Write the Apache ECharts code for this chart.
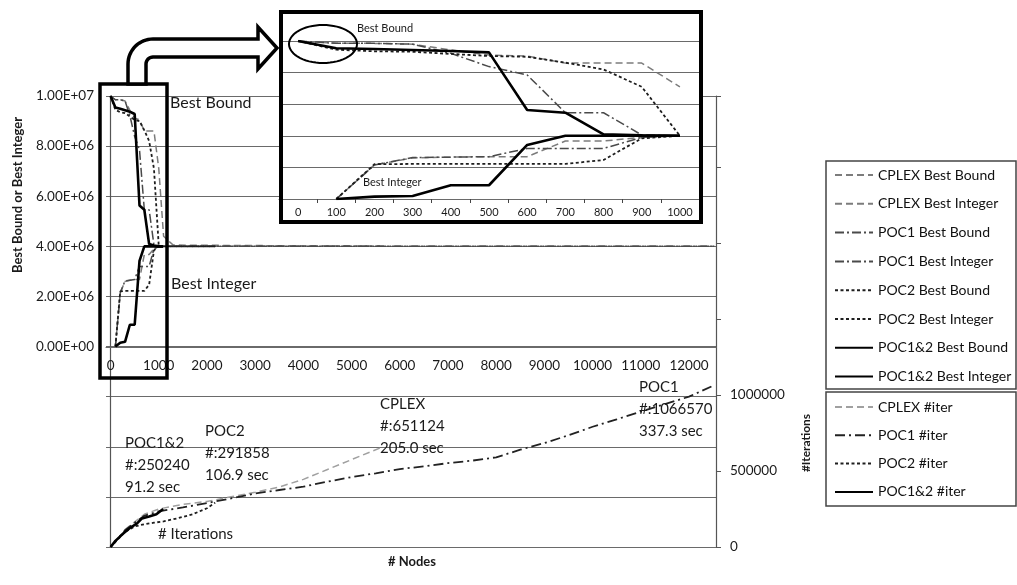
<!DOCTYPE html>
<html>
<head>
<meta charset="utf-8">
<title>Best bound / best integer vs nodes</title>
<script src="https://cdn.jsdelivr.net/npm/echarts@6/dist/echarts.min.js"></script>
<style>
  html, body { margin: 0; padding: 0; background: #fff; }
  #main { width: 1017px; height: 585px; }
</style>
</head>
<body>
<div id="main"></div>
<script type="text/javascript">

// ---- data ----
var mainXTicks = [0, 1000, 2000, 3000, 4000, 5000, 6000, 7000, 8000, 9000, 10000, 11000, 12000];
var insetNodes = [0, 100, 200, 300, 400, 500, 600, 700, 800, 900, 1000];

// best bound / best integer, one value per inset node (null = none yet)
var cplexBound  = [1e7, 9.85e6, 9.85e6, 9.8e6, 9.43e6, 9.11e6, 9.05e6, 8.6e6, 8.6e6, 8.6e6, 7.1e6];
var cplexInt    = [null, 0, 2.15e6, 2.6e6, 2.65e6, 2.68e6, 2.68e6, 3.67e6, 3.67e6, 3.9e6, 4.0e6];
var poc1Bound   = [1e7, 9.85e6, 9.85e6, 9.8e6, 9.22e6, 8.38e6, 7.85e6, 5.46e6, 5.46e6, 4.05e6, 4.0e6];
var poc1Int     = [null, 0, 2.15e6, 2.62e6, 2.65e6, 2.68e6, 3.2e6, 3.2e6, 3.2e6, 3.9e6, 4.0e6];
var poc2Bound   = [1e7, 9.45e6, 9.35e6, 9.32e6, 9.18e6, 9.05e6, 9.0e6, 8.63e6, 8.2e6, 7.1e6, 4.0e6];
var poc2Int     = [null, 0, 2.2e6, 2.22e6, 2.22e6, 2.22e6, 2.22e6, 2.22e6, 2.47e6, 3.84e6, 4.0e6];
var poc12Bound  = [1e7, 9.54e6, 9.49e6, 9.43e6, 9.37e6, 9.28e6, 5.63e6, 5.46e6, 4.09e6, 4.03e6, 4.0e6];
var poc12Int    = [null, 0, 0.15e6, 0.19e6, 0.87e6, 0.87e6, 3.42e6, 4.0e6, 4.0e6, 4.0e6, 4.0e6];

// what happens after node 1000 (until each run stops)
var cplexBoundTail = [[1100, 4.4e6], [1300, 4.05e6], [5590, 4.0e6]];
var cplexIntTail   = [[5590, 4.0e6]];
var poc1BoundTail  = [[12540, 4.0e6]];
var poc1IntTail    = [[12540, 4.0e6]];
var poc2BoundTail  = [[2170, 4.0e6]];
var poc2IntTail    = [[2170, 4.0e6]];
var poc12BoundTail = [[1090, 4.0e6]];
var poc12IntTail   = [[1090, 4.0e6]];

// iterations vs nodes
var cplexIterNodes = [0, 150, 300, 500, 700, 1000, 1500, 2000, 2500, 3000, 3500, 4000, 4500, 5000, 5590];
var cplexIter      = [0, 55000, 115000, 165000, 215000, 250000, 280000, 300000, 330000, 360000, 395000, 445000, 510000, 575000, 651124];
var poc1IterNodes  = [0, 150, 300, 500, 700, 1000, 1500, 2000, 2500, 3000, 3500, 4000, 4500, 5000, 5500, 6000, 6500, 7000, 7500, 8000, 8500, 9000, 9500, 10000, 10500, 11000, 11500, 12000, 12540];
var poc1Iter       = [0, 55000, 110000, 160000, 205000, 235000, 260000, 289000, 320000, 352000, 375000, 397000, 430000, 460000, 485000, 513000, 530000, 552000, 568000, 590000, 640000, 684000, 735000, 791000, 840000, 890000, 940000, 989000, 1066570];
var poc2IterNodes  = [0, 150, 300, 500, 700, 900, 1100, 1400, 1700, 2000, 2170];
var poc2Iter       = [0, 50000, 100000, 135000, 150000, 160000, 168000, 190000, 215000, 255000, 291858];
var poc12IterNodes = [0, 100, 250, 400, 550, 650, 800, 950, 1090];
var poc12Iter      = [0, 40000, 85000, 125000, 155000, 188000, 200000, 215000, 250240];

var notes = [
    {x: 125, y: 443, lines: ['POC1&2', '#:250240', '91.2 sec']},
    {x: 205, y: 431, lines: ['POC2', '#:291858', '106.9 sec']},
    {x: 380, y: 404, lines: ['CPLEX', '#:651124', '205.0 sec']},
    {x: 639, y: 387, lines: ['POC1', '#:1066570', '337.3 sec']}
];

// ---- helpers ----
var FONT = 'Lato, "Open Sans", sans-serif';

var pairs = function (xs, ys, tail) {
    var out = [];
    for (var i = 0; i < xs.length; i++) {
        if (ys[i] !== null) out.push([xs[i], ys[i]]);
    }
    return out.concat(tail || []);
};

var sty = {
    cplex: {color: '#7c7c7c', width: 1.5, type: [7, 4]},
    poc1:  {color: '#4a4a4a', width: 1.5, type: [9, 3, 2, 3]},
    poc2:  {color: '#1e1e1e', width: 1.8, type: [3, 2.5]},
    poc12: {color: '#000000', width: 2.6, type: 'solid'},
    cplexIt: {color: '#a0a0a0', width: 1.5, type: [7, 4]},
    poc1It:  {color: '#222222', width: 1.8, type: [10, 4, 2, 4]}
};

var line = function (name, data, ls, xi, yi, z) {
    return {
        name: name, type: 'line', data: data,
        xAxisIndex: xi, yAxisIndex: yi,
        symbol: 'none', showSymbol: false, z: z,
        lineStyle: {color: ls.color, width: ls.width, type: ls.type},
        itemStyle: {color: ls.color},
        animation: false
    };
};

var series = [
    // main chart
    line('CPLEX Best Bound',    pairs(insetNodes, cplexBound, cplexBoundTail), sty.cplex, 0, 0, 2),
    line('CPLEX Best Integer',  pairs(insetNodes, cplexInt, cplexIntTail),     sty.cplex, 0, 0, 2),
    line('POC1 Best Bound',     pairs(insetNodes, poc1Bound, poc1BoundTail),   sty.poc1, 0, 0, 2),
    line('POC1 Best Integer',   pairs(insetNodes, poc1Int, poc1IntTail),       sty.poc1, 0, 0, 2),
    line('POC2 Best Bound',     pairs(insetNodes, poc2Bound, poc2BoundTail),   sty.poc2, 0, 0, 2),
    line('POC2 Best Integer',   pairs(insetNodes, poc2Int, poc2IntTail),       sty.poc2, 0, 0, 2),
    line('POC1&2 Best Bound',   pairs(insetNodes, poc12Bound, poc12BoundTail), sty.poc12, 0, 0, 3),
    line('POC1&2 Best Integer', pairs(insetNodes, poc12Int, poc12IntTail),     sty.poc12, 0, 0, 3),
    line('CPLEX #iter',  pairs(cplexIterNodes, cplexIter), sty.cplexIt, 0, 1, 2),
    line('POC1 #iter',   pairs(poc1IterNodes, poc1Iter),   sty.poc1It, 0, 1, 2),
    line('POC2 #iter',   pairs(poc2IterNodes, poc2Iter),   sty.poc2, 0, 1, 2),
    line('POC1&2 #iter', pairs(poc12IterNodes, poc12Iter), sty.poc12, 0, 1, 3),
    // inset (zoom of 0..1000 nodes)
    line('CPLEX Best Bound',    cplexBound, sty.cplex, 1, 2, 7),
    line('CPLEX Best Integer',  cplexInt,   sty.cplex, 1, 2, 7),
    line('POC1 Best Bound',     poc1Bound,  sty.poc1, 1, 2, 7),
    line('POC1 Best Integer',   poc1Int,    sty.poc1, 1, 2, 7),
    line('POC2 Best Bound',     poc2Bound,  sty.poc2, 1, 2, 7),
    line('POC2 Best Integer',   poc2Int,    sty.poc2, 1, 2, 7),
    line('POC1&2 Best Bound',   poc12Bound, sty.poc12, 1, 2, 8),
    line('POC1&2 Best Integer', poc12Int,   sty.poc12, 1, 2, 8)
];

// ---- shapes: bent arrow and ellipse as point lists ----
var arcPts = function (cx, cy, r, a0, a1, n) {
    var pts = [];
    for (var i = 0; i <= n; i++) {
        var a = a0 + (a1 - a0) * i / n;
        pts.push([cx + r * Math.cos(a), cy + r * Math.sin(a)]);
    }
    return pts;
};
var arrowPts = [[128, 84], [128, 64]]
    .concat(arcPts(153, 64, 25, Math.PI, Math.PI * 1.5, 16))
    .concat([[258, 39], [258, 27], [277, 48], [258, 69], [258, 57]])
    .concat(arcPts(153, 64, 7, Math.PI * 1.5, Math.PI, 8))
    .concat([[146, 84]]);
var ellipsePts = [];
for (var k = 0; k < 60; k++) {
    var t = k / 60 * Math.PI * 2;
    ellipsePts.push([323 + 34 * Math.cos(t), 44 + 19 * Math.sin(t)]);
}

var txt = function (x, y, s, size, weight, align, rot) {
    return {
        type: 'text', x: x, y: y, rotation: rot || 0, z: 12,
        style: {text: s, fill: '#1a1a1a', font: (weight || 'normal') + ' ' + size + 'px ' + FONT,
                align: align || 'left', verticalAlign: 'middle'}
    };
};

var graphics = [
    {type: 'rect', shape: {x: 281, y: 12, width: 420, height: 210}, style: {fill: '#fff'}, z: 5},
    {type: 'rect', shape: {x: 281, y: 12, width: 420, height: 210}, style: {fill: null, stroke: '#000', lineWidth: 4}, z: 12},
    {type: 'rect', shape: {x: 100, y: 84, width: 67, height: 294}, style: {fill: null, stroke: '#000', lineWidth: 3.5}, z: 12},
    {type: 'polygon', shape: {points: arrowPts}, style: {fill: '#fff', stroke: '#000', lineWidth: 3.5}, z: 12},
    {type: 'polygon', shape: {points: ellipsePts}, style: {fill: null, stroke: '#000', lineWidth: 2}, z: 12},
    {type: 'rect', shape: {x: 826, y: 161, width: 190, height: 228}, style: {fill: null, stroke: '#444', lineWidth: 1.5}, z: 12},
    {type: 'rect', shape: {x: 826, y: 392, width: 190, height: 114}, style: {fill: null, stroke: '#444', lineWidth: 1.5}, z: 12},
    txt(170, 103, 'Best Bound', 16),
    txt(171, 284, 'Best Integer', 16),
    txt(357, 28, 'Best Bound', 11),
    txt(363, 182, 'Best Integer', 11),
    txt(158, 534, '# Iterations', 15),
    txt(412, 562, '# Nodes', 13, 'bold', 'center'),
    txt(18, 195, 'Best Bound or Best Integer', 13, 'bold', 'center', Math.PI / 2),
    txt(806, 443, '#Iterations', 12, 'bold', 'center', Math.PI / 2)
];
notes.forEach(function (n) {
    n.lines.forEach(function (s, i) {
        graphics.push(txt(n.x, n.y + i * 22, s, 15));
    });
});

var gridColor = '#6a6a6a';
var axisFont = {fontFamily: FONT, fontSize: 13.5, color: '#1a1a1a'};
var legendCommon = {
    orient: 'vertical', left: 834, padding: 0,
    itemWidth: 38, itemHeight: 16, selectedMode: false,
    itemStyle: {color: 'rgba(0,0,0,0)', borderWidth: 0, opacity: 0},
    textStyle: {fontFamily: FONT, fontSize: 14, color: '#111'}
};

var option = {
    backgroundColor: '#fff',
    animation: false,
    grid: [
        {left: 106, right: 301, top: 96, bottom: 38},
        {left: 279, width: 420, top: 41, height: 158}
    ],
    legend: [
        Object.assign({
            data: series.slice(0, 8).map(function (s) { return s.name; }),
            top: 168, itemGap: 14.8
        }, legendCommon),
        Object.assign({
            data: series.slice(8, 12).map(function (s) { return s.name; }),
            top: 400, itemGap: 14.3
        }, legendCommon)
    ],
    xAxis: [
        {
            // labels sit just under the zero line of the left axis (200px above the grid bottom)
            type: 'value', gridIndex: 0, min: -95, max: 12560, offset: -200,
            axisLine: {show: true, onZero: false, lineStyle: {color: gridColor, width: 1.2}},
            axisTick: {show: false},
            splitLine: {show: false},
            axisLabel: Object.assign({
                customValues: mainXTicks, margin: 12,
                formatter: function (v) { return String(v); }
            }, axisFont)
        },
        {
            type: 'category', gridIndex: 1, data: insetNodes.map(String), boundaryGap: true, z: 6,
            axisLine: {show: true, lineStyle: {color: gridColor, width: 1.2}},
            axisTick: {show: true, length: 4, lineStyle: {color: '#444'}},
            splitLine: {show: false},
            axisLabel: {fontFamily: FONT, fontSize: 11, color: '#1a1a1a', margin: 8, interval: 0}
        }
    ],
    yAxis: [
        {
            type: 'value', gridIndex: 0, min: -8e6, max: 1e7, interval: 2e6,
            axisLine: {show: true, lineStyle: {color: '#555', width: 1.2}},
            axisTick: {show: false},
            splitLine: {show: true, lineStyle: {color: gridColor, width: 1.2}},
            axisLabel: Object.assign({
                margin: 12,
                formatter: function (v) {
                    if (v < 0) return '';
                    var p = v.toExponential(2).split('e');
                    var e = parseInt(p[1], 10);
                    return p[0] + 'E+' + (e < 10 ? '0' + e : e);
                }
            }, axisFont)
        },
        {
            type: 'value', gridIndex: 0, position: 'right', min: 0, max: 2967000, interval: 500000,
            axisLine: {show: true, lineStyle: {color: '#555', width: 1.2}},
            axisTick: {show: true, length: 5, lineStyle: {color: '#555'}},
            splitLine: {show: false},
            axisLabel: Object.assign({
                margin: 14,
                formatter: function (v) { return v > 1000000 ? '' : String(v); }
            }, axisFont)
        },
        {
            type: 'value', gridIndex: 1, min: 0, max: 1e7, interval: 2e6, z: 6,
            axisLine: {show: false},
            axisTick: {show: false},
            axisLabel: {show: false},
            splitLine: {show: true, lineStyle: {color: gridColor, width: 1.2}}
        }
    ],
    series: series,
    graphic: {elements: graphics}
};

var myChart = echarts.init(document.getElementById('main'));
myChart.setOption(option);

</script>
</body>
</html>
